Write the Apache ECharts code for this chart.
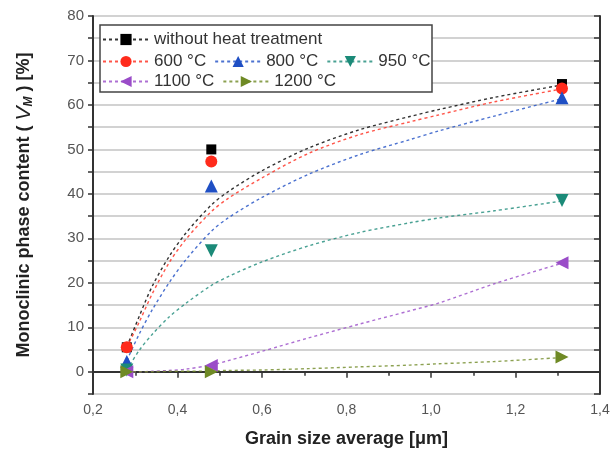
<!DOCTYPE html>
<html>
<head>
<meta charset="utf-8">
<script src="https://cdn.jsdelivr.net/npm/echarts@6/dist/echarts.min.js"></script>
<style>
  html, body { margin: 0; padding: 0; background: #fff; }
  #chart { width: 614px; height: 454px; }
</style>
</head>
<body>
<div id="chart"></div>
<script>
// measured points (grain size in um, monoclinic content in %)
var grainSize = [0.28, 0.48, 1.31];
var noHeat = [5.5, 50, 64.7];
var t600 = [5.5, 47.3, 63.7];
var t800 = [2.3, 41.8, 61.6];
var t950 = [0.4, 27.2, 38.5];
var t1100 = [0, 1.4, 24.5];
var t1200 = [0, 0, 3.3];

// fitted curves
var fitX = [0.28, 0.31, 0.34, 0.38, 0.42, 0.48, 0.52, 0.6, 0.71, 0.83, 0.95, 1.02, 1.15, 1.31];
var noHeatFit = [5.6, 12.6, 19.2, 25.9, 31.2, 37.5, 40.5, 45.2, 50.3, 54.4, 57.4, 59, 61.7, 64.5];
var t600Fit = [5.5, 11.3, 17.5, 24.5, 29.8, 36, 39, 43.6, 49.1, 53.3, 56.2, 57.8, 60.7, 63.6];
var t800Fit = [2.5, 8.6, 13.9, 20, 25.2, 31.6, 34.6, 39.2, 44.4, 48.8, 52.2, 54.2, 57.5, 61.4];
var t950Fit = [0.4, 4.9, 8.4, 12.3, 15.4, 19.4, 21.4, 24.7, 28.3, 31.3, 33.5, 34.6, 36.2, 38.4];
var t1100Fit = [0, 0, 0.1, 0.3, 0.6, 1.5, 2.5, 4.6, 7.6, 10.7, 13.7, 15.5, 19.8, 24.4];
var t1200Fit = [0, 0, 0, 0.1, 0.1, 0.2, 0.3, 0.4, 0.7, 1.1, 1.5, 1.8, 2.3, 3.2];

var names = ['without heat treatment', '600 °C', '800 °C', '950 °C', '1100 °C', '1200 °C'];
var colors = ['#000000', '#ff2b1c', '#1f4fc4', '#1b8a78', '#9a4cc8', '#6f8a25'];
var symbols = ['rect', 'circle', 'triangle', 'triangle', 'triangle', 'triangle'];
var rotations = [0, 0, 0, 180, 90, -90];
var sizes = [10, 12, 13, 13, 13, 13];
var points = [noHeat, t600, t800, t950, t1100, t1200];
var fits = [noHeatFit, t600Fit, t800Fit, t950Fit, t1100Fit, t1200Fit];

var font = 'Liberation Sans, Arial, sans-serif';

function pairs(xs, ys) {
    return xs.map(function (x, i) { return [x, ys[i]]; });
}

var series = [];
names.forEach(function (name, i) {
    series.push({
        name: name,
        type: 'line',
        data: pairs(fitX, fits[i]),
        smooth: 0.3,
        showSymbol: false,
        symbol: symbols[i],
        symbolSize: sizes[i],
        symbolRotate: rotations[i],
        itemStyle: { color: colors[i] },
        lineStyle: { color: colors[i], width: 1.4, type: [3, 3], opacity: 0.8 },
        silent: true,
        z: 2
    });
});
names.forEach(function (name, i) {
    series.push({
        name: name,
        type: 'scatter',
        data: pairs(grainSize, points[i]),
        symbol: symbols[i],
        symbolSize: sizes[i],
        symbolRotate: rotations[i],
        itemStyle: { color: colors[i], opacity: 1 },
        z: 3
    });
});

var legendBase = {
    left: 100,
    orient: 'horizontal',
    padding: 2,
    itemGap: 8,
    itemWidth: 46,
    itemHeight: 14,
    textStyle: { fontSize: 17, color: '#333', fontFamily: font, lineHeight: 16 }
};

var chart = echarts.init(document.getElementById('chart'));
chart.setOption({
    animation: false,
    backgroundColor: '#fff',
    textStyle: { fontFamily: font },
    grid: { left: 93, right: 14, top: 16, bottom: 60 },
    graphic: [{
        type: 'rect',
        z: 3,
        shape: { x: 100, y: 25, width: 332, height: 67 },
        style: { fill: '#fff', stroke: '#444', lineWidth: 1.5 }
    }],
    legend: [
        Object.assign({}, legendBase, { top: 29, data: [names[0]] }),
        Object.assign({}, legendBase, { top: 51, data: [names[1], names[2], names[3]] }),
        Object.assign({}, legendBase, { top: 71, data: [names[4], names[5]] })
    ],
    xAxis: [{
        type: 'value',
        position: 'bottom',
        min: 0.2,
        max: 1.4,
        interval: 0.2,
        name: 'Grain size average [μm]',
        nameLocation: 'middle',
        nameGap: 36,
        nameTextStyle: { fontSize: 18, fontWeight: 'bold', color: '#222', fontFamily: font },
        axisLine: { show: true, lineStyle: { color: '#333', width: 2 } },
        axisTick: { show: true, inside: false, length: 6, lineStyle: { color: '#333', width: 1.5 } },
        minorTick: { show: true, splitNumber: 2, length: 4, lineStyle: { color: '#333', width: 1.5 } },
        splitLine: { show: false },
        axisLabel: {
            margin: 9,
            fontSize: 14,
            color: '#555',
            formatter: function (v) { return v.toFixed(1).replace('.', ','); }
        }
    }, {
        type: 'value',
        position: 'top',
        min: 0.2,
        max: 1.4,
        interval: 0.2,
        axisLine: { show: true, lineStyle: { color: '#333', width: 2 } },
        axisTick: { show: true, inside: true, length: 6, lineStyle: { color: '#333', width: 1.5 } },
        minorTick: { show: true, splitNumber: 2, length: 4, lineStyle: { color: '#333', width: 1.5 } },
        splitLine: { show: false },
        axisLabel: { show: false }
    }],
    yAxis: [{
        type: 'value',
        position: 'left',
        min: -5,
        max: 80,
        interval: 5,
        name: 'Monoclinic phase content ( {v|V}{m|M} ) [%]',
        nameLocation: 'middle',
        nameGap: 58,
        nameTextStyle: {
            fontSize: 18, fontWeight: 'bold', color: '#222', fontFamily: font,
            rich: {
                v: { fontSize: 21, fontStyle: 'italic', fontWeight: 'normal', color: '#222', fontFamily: font },
                m: { fontSize: 12, fontStyle: 'italic', fontWeight: 'bold', color: '#222', fontFamily: font, padding: [10, 0, 0, 0] }
            }
        },
        axisLine: { show: true, lineStyle: { color: '#333', width: 2 } },
        axisTick: { show: true, inside: false, length: 5, lineStyle: { color: '#333', width: 1.5 } },
        splitLine: { show: true, lineStyle: { color: '#d2d2d2', width: 2 } },
        axisLabel: {
            margin: 9,
            fontSize: 15,
            color: '#555',
            formatter: function (v) { return v % 10 === 0 ? String(v) : ''; }
        }
    }, {
        type: 'value',
        position: 'right',
        min: -5,
        max: 80,
        interval: 5,
        axisLine: { show: true, lineStyle: { color: '#333', width: 2 } },
        axisTick: { show: true, inside: true, length: 6, lineStyle: { color: '#333', width: 1.5 } },
        splitLine: { show: false },
        axisLabel: { show: false }
    }],
    series: series
});
</script>
</body>
</html>
